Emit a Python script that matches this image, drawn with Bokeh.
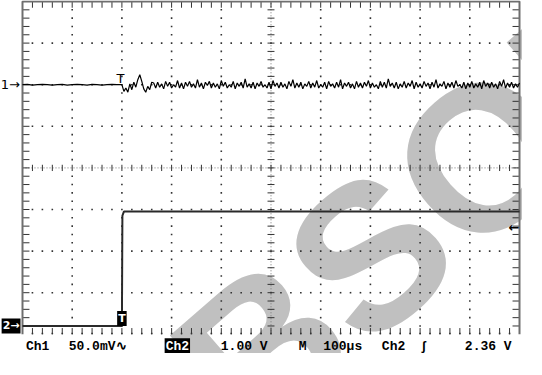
import numpy as np
from bokeh.plotting import figure
from bokeh.models import Range1d
from bokeh.core.properties import value
from bokeh.embed import file_html
from bokeh.resources import INLINE

# ---------------- scope settings ----------------
time_per_div_us = 100.0
ch1_mv_per_div = 50.0
ch2_v_per_div = 1.00
trigger_level_v = 2.36
ch1_ground_div = 6.0
ch2_ground_div = 0.2
t_start_us = -200.0

# ---------------- channel 1 (mV) ----------------
ch1_pre_t = np.arange(-200, 0, 10)          # µs
ch1_pre_mv = [0, 0.5, -0.5, 0, 0.5, 0, -0.5, 0, 0.5, -0.5,
              0, 0.5, 0, -0.5, 0.5, 0, -0.5, 0, 0.5, 0]
ch1_post_t = np.arange(0, 801, 4)           # µs
ch1_post_mv = [
    0, -8, -4, -9, 1, -6, 3, -3, 6, 12, 4, -5, -9, -2, -6, 3,
    2, -4, 3, -3, 1, -5, 4, -2, 3, -4, 0, -3, 5, -4, 2, -5, 3, -2, 4, -3,
    1, -4, 6, -3, 2, -5, 3, -1, 4, -4, 2, -3, 1, -5, 5, -2, 3, -4, 0, -3,
    4, -5, 2, -2, 3, -4, 7, -3, 1, -4, 3, -5, 2, -2, 4, -3, 0, -4, 3, -5,
    5, -2, 2, -4, 3, -3, 1, -5, 4, -2, 6, -4, 2, -3, 3, -5, 1, -2, 4, -4,
    2, -3, 5, -4, 0, -3, 3, -5, 4, -2, 1, -4, 3, -3, 6, -5, 2, -2, 3, -4,
    1, -5, 4, -3, 2, -4, 3, -2, 5, -4, 2, -3, 0, -5, 4, -3, 3, -4, 7, -2,
    2, -4, 3, -5, 1, -3, 4, -4, 2, -2, 5, -5, 3, -3, 1, -4, 4, -2, 2, -5,
    3, -3, 6, -4, 1, -2, 4, -5, 2, -3, 3, -4, 5, -2, 0, -4, 3, -5, 2, -3,
    4, -4, 1, -3, 3, -5, 5, -2, 2, -4, 3, -3, 1, -5, 4, -2, 6, -4, 2, -3,
    3, -4, 1, -3, 2,
]

# ---------------- channel 2 (V) ----------------
ch2_t = [-200, 0, 1, 4, 800]
ch2_v = [0.0, 0.0, 2.65, 2.75, 2.75]

# ---------------- readout texts ----------------
readout_div = [0.07, 0.93, 3.99, 5.56, 6.05, 7.23, 8.0, 8.9]
readout_txt = ["Ch1", "50.0mV\u223f", "1.00 V", "M", "100\u00b5s", "Ch2", "\u0283", "2.36 V"]

# ---------------- layout ----------------
W, H = 522, 353
px_per_div_x, px_per_div_y = 49.7, 41.6
left_px, bottom_px = 22.0, 19.2          # graticule origin inside canvas

def tx(d):
    return t_start_us + time_per_div_us * np.asarray(d, dtype=float)

x0 = t_start_us - left_px / px_per_div_x * time_per_div_us
x1 = x0 + W / px_per_div_x * time_per_div_us
y0 = -bottom_px / px_per_div_y
y1 = y0 + H / px_per_div_y

p = figure(width=W, height=H, output_backend="svg", toolbar_location=None,
           x_axis_type=None, y_axis_type=None, min_border=0,
           x_range=Range1d(x0, x1), y_range=Range1d(y0, y1))
p.outline_line_color = None
p.background_fill_color = "white"
p.border_fill_color = "white"
p.extra_y_ranges = {
    "ch1": Range1d((y0 - ch1_ground_div) * ch1_mv_per_div, (y1 - ch1_ground_div) * ch1_mv_per_div),
    "ch2": Range1d((y0 - ch2_ground_div) * ch2_v_per_div, (y1 - ch2_ground_div) * ch2_v_per_div),
}

# ---------------- watermark ----------------
p.text(x=[tx(9.86)], y=[4.88], text=["OBSOLETE"], angle=0.7156,
       text_font=value("Liberation Sans"), text_font_style="bold",
       text_font_size="206px", text_color="#c0c0c0",
       text_align="center", text_baseline="middle")

# ---------------- graticule ----------------
grid_col = "#333333"
minor_x = np.round(np.arange(0, 10.001, 0.2), 3)
minor_y = np.round(np.arange(0, 8.001, 0.2), 3)

dx, dy = [], []
for yy in [1, 2, 3, 5, 6, 7]:
    for xx in minor_x[1:-1]:
        dx.append(xx); dy.append(yy)
for xx in [1, 2, 3, 4, 6, 7, 8, 9]:
    for yy in minor_y[1:-1]:
        if yy not in (1, 2, 3, 4, 5, 6, 7):
            dx.append(xx); dy.append(yy)
for xx in minor_x[1:-1]:
    dx.append(xx); dy.append(0.02)
p.scatter(x=tx(dx), y=dy, marker="square", size=1.6, fill_color=grid_col, line_color=None)

# center lines (fine dotted)
p.line(x=tx([0, 10]), y=[4, 4], line_color="#777", line_width=1, line_dash="1 2")
p.line(x=tx([5, 5]), y=[0, 8], line_color="#777", line_width=1, line_dash="1 2")

tick_h = 0.075   # div (vertical tick half length)
tick_w = 0.07    # div (horizontal tick length)
sx0, sy0, sx1, sy1 = [], [], [], []
for xx in minor_x[1:-1]:
    sx0.append(xx); sx1.append(xx); sy0.append(4 - tick_h); sy1.append(4 + tick_h)
    sx0.append(xx); sx1.append(xx); sy0.append(8); sy1.append(8 - 2 * tick_h)
    sx0.append(xx); sx1.append(xx); sy0.append(0); sy1.append(2 * tick_h)
for yy in minor_y[1:-1]:
    sx0.append(5 - tick_w); sx1.append(5 + tick_w); sy0.append(yy); sy1.append(yy)
    sx0.append(0); sx1.append(2 * tick_w); sy0.append(yy); sy1.append(yy)
    sx0.append(10); sx1.append(10 - 2 * tick_w); sy0.append(yy); sy1.append(yy)
p.segment(x0=tx(sx0), y0=sy0, x1=tx(sx1), y1=sy1, line_color=grid_col, line_width=1)

# border (left, top, right)
p.line(x=tx([0, 0, 10, 10]), y=[0, 8, 8, 0], line_color="#6e6e6e", line_width=2)

# ---------------- traces ----------------
p.line(x=ch2_t, y=ch2_v, y_range_name="ch2", line_color="#2a2a2a", line_width=2)
p.line(x=np.concatenate([ch1_pre_t, ch1_post_t]), y=list(ch1_pre_mv) + list(ch1_post_mv),
       y_range_name="ch1", line_color="black", line_width=1.2)

# ---------------- markers ----------------
mono = value("Liberation Mono")
p.text(x=[tx(-0.44)], y=[0], text=["1\u2192"], y_range_name="ch1",
       text_font=value("DejaVu Sans"), text_font_size="13px", text_color="black",
       text_align="left", text_baseline="middle")
p.text(x=[tx(-0.42)], y=[0], text=["2\u2192"], y_range_name="ch2",
       text_font=value("DejaVu Sans"), text_font_style="bold", text_font_size="11px",
       text_color="white", background_fill_color="black", padding=1,
       text_align="left", text_baseline="middle")
p.text(x=[-3], y=[-2], text=["T"], y_range_name="ch1",
       text_font=value("DejaVu Sans"), text_font_size="13px", text_color="black",
       text_align="center", text_baseline="bottom")
p.text(x=[0], y=[0], text=["T"], y_range_name="ch2",
       text_font=value("DejaVu Sans"), text_font_style="bold", text_font_size="11px",
       text_color="white", background_fill_color="black", padding=1,
       text_align="center", text_baseline="bottom")
p.text(x=[tx(10)], y=[trigger_level_v], text=["\u2190"], y_range_name="ch2",
       text_font=value("DejaVu Sans"), text_font_style="bold", text_font_size="13px",
       text_color="black", text_align="right", text_baseline="middle")

# ---------------- readout row ----------------
readout_y = -0.30
p.text(x=tx(readout_div), y=[readout_y] * len(readout_txt), text=readout_txt,
       text_font=mono, text_font_style="bold", text_font_size="13px",
       text_color="black", text_align="left", text_baseline="middle")
p.text(x=[tx(2.86)], y=[readout_y], text=["Ch2"],
       text_font=mono, text_font_style="bold", text_font_size="13px",
       text_color="white", background_fill_color="black", padding=1,
       text_align="left", text_baseline="middle")

open("out.html", "w").write(file_html(p, INLINE))
